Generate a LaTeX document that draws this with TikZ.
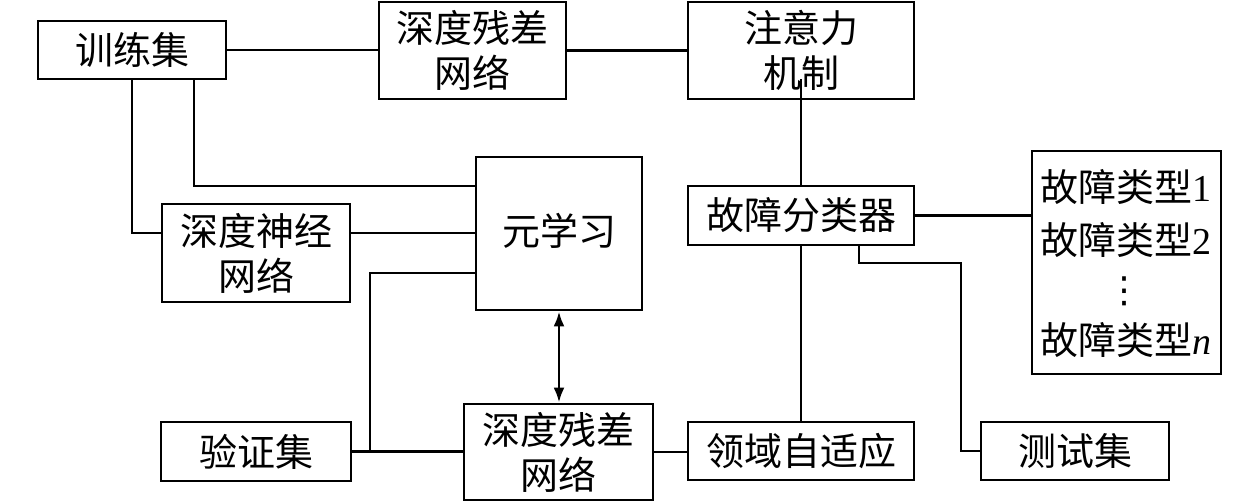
\documentclass[tikz,border=0pt]{standalone}
\usepackage{fontspec}
\setmainfont{Liberation Serif}
\newfontfamily\cjk{Noto Sans CJK SC}
\newfontfamily\symfont{DejaVu Sans}
\usetikzlibrary{arrows.meta}
\begin{document}
\begin{tikzpicture}[x=1pt,y=-1pt,
  box/.style={draw,line width=2.8pt,inner sep=0pt,align=center,
    font=\cjk\fontsize{38}{45}\selectfont},
  txt/.style={inner sep=0pt,font=\fontsize{38}{45}\selectfont},
  wire/.style={line width=2.8pt},
  dbl/.style={line width=2.8pt,{Latex[length=15pt,width=11pt]}-{Latex[length=15pt,width=11pt]}}]
\useasboundingbox (0,0) rectangle (1260,501);
% boxes
\node[box,minimum width=188pt,minimum height=58pt] (train) at (132,50) {训练集};
\node[box,minimum width=187pt,minimum height=97pt] (res1) at (472.5,50.5) {深度残差\\网络};
\node[box,minimum width=226pt,minimum height=97pt] (att) at (801,50.5) {注意力\\机制};
\node[box,minimum width=166pt,minimum height=153pt] (meta) at (559,233.5) {\raisebox{8pt}{元学习}};
\node[box,minimum width=188pt,minimum height=98pt] (dnn) at (256,253) {深度神经\\网络};
\node[box,minimum width=226pt,minimum height=59pt] (cls) at (801,215.5) {故障分类器};
\node[draw,line width=2.8pt,minimum width=189pt,minimum height=223pt] (types) at (1126.5,262.5) {};
\node[box,minimum width=190pt,minimum height=59pt] (val) at (256,451.5) {验证集};
\node[box,minimum width=189pt,minimum height=96pt] (res2) at (558.5,452) {深度残差\\网络};
\node[box,minimum width=226pt,minimum height=58pt] (da) at (801,451) {领域自适应};
\node[box,minimum width=188pt,minimum height=58pt] (test) at (1075,451) {测试集};
% fault type list
\node[txt] (t1) at (1126,187) {{\cjk 故障类型}1};
\node[txt] (t2) at (1126,240) {{\cjk 故障类型}2};
\node[inner sep=0pt,font=\symfont\fontsize{36}{36}\selectfont] (vd) at (1124,291) {⋮};
\node[txt] (tn) at (1126,340) {{\cjk 故障类型}\textit{n}};
% junctions
\coordinate (j1) at (370,452);
\coordinate (j2) at (961,263);
% connectors
\draw[wire] (train.east) -- (train.east -| res1.west);
\draw[wire] (res1.east) -- (res1.east -| att.west);
\draw[wire] ([yshift=21pt]att.south) -- (cls.north);
\draw[wire] (train.south) |- ([yshift=20pt]dnn.west);
\draw[wire] ([xshift=62pt]train.south) |- ([yshift=47.5pt]meta.west);
\draw[wire] ([yshift=20pt]dnn.east) -- ([yshift=20pt]dnn.east -| meta.west);
\draw[wire] ([yshift=-39.5pt]meta.west) -| (j1);
\draw[wire] (val.east) -- (val.east -| res2.west);
\draw[dbl] (meta.south) -- (meta.south |- res2.north);
\draw[wire] (res2.east) -- (res2.east -| da.west);
\draw[wire] (da.north) -- (cls.south);
\draw[wire] ([xshift=58pt]cls.south) |- (j2) |- (test.west);
\draw[wire] (cls.east) -- (cls.east -| types.west);
\end{tikzpicture}
\end{document}
